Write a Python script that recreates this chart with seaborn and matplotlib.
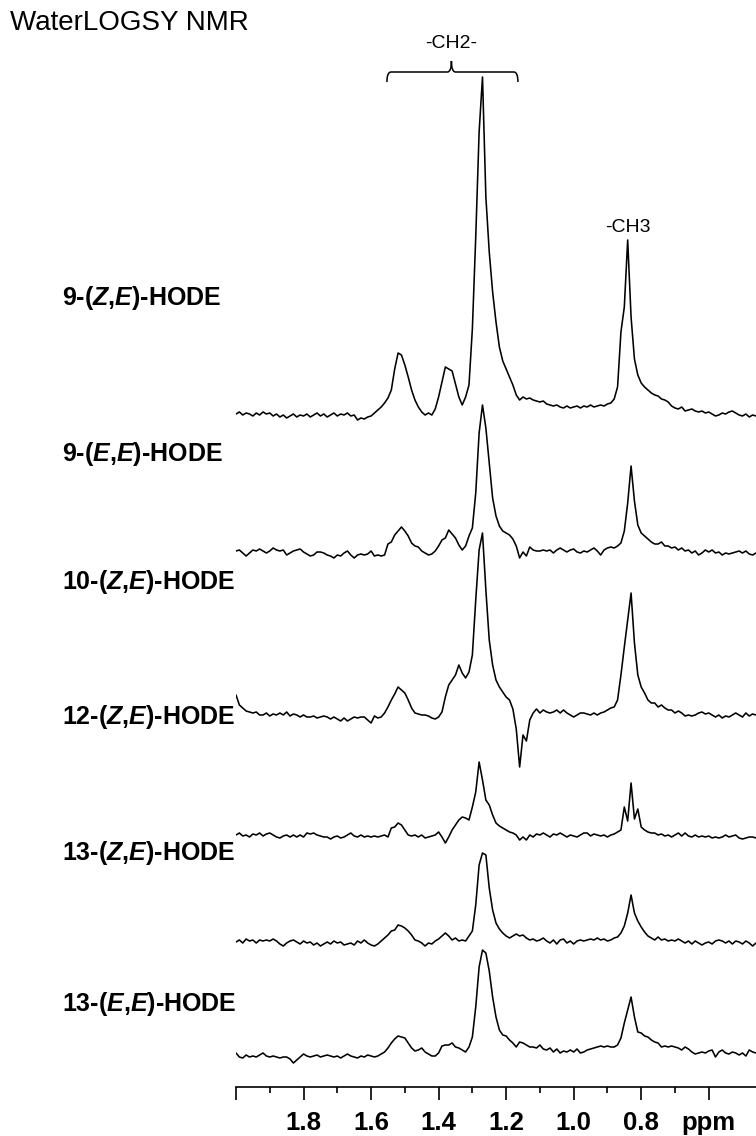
import numpy as np
import pandas as pd
import matplotlib
matplotlib.use("Agg")
import matplotlib.pyplot as plt
from matplotlib.path import Path
from matplotlib.patches import PathPatch
import seaborn as sns

# ---------------- data ----------------
# chemical shift grid (ppm), 0.01 ppm spacing from 2.00 down to 0.46
ppm = np.round(np.linspace(2.00, 0.46, 155), 2)

sample_names = [
    r"9-($\it{Z}$,$\it{E}$)-HODE",
    r"9-($\it{E}$,$\it{E}$)-HODE",
    r"10-($\it{Z}$,$\it{E}$)-HODE",
    r"12-($\it{Z}$,$\it{E}$)-HODE",
    r"13-($\it{Z}$,$\it{E}$)-HODE",
    r"13-($\it{E}$,$\it{E}$)-HODE",
]

# intensities (arbitrary units, baseline = 0), one row per 0.1 ppm
s_9ZE = [
    3, 5, 2, 4, 3, 1, 4, 2, 5, 3,
    4, 1, 3, 0, 2, -1, 1, 3, 0, 2,
    1, 3, 0, 2, 4, 1, 3, 0, 2, 4,
    1, 3, 2, 4, 1, 2, -3, -1, -2, 0,
    1, 4, 7, 10, 14, 19, 27, 48, 64, 62,
    52, 40, 27, 17, 10, 5, 2, 4, 2, 8,
    20, 35, 50, 48, 46, 33, 20, 12, 20, 32,
    88, 180, 285, 340, 220, 165, 125, 95, 70, 56,
    48, 40, 32, 22, 17, 20, 18, 19, 17, 16,
    15, 16, 13, 12, 11, 12, 10, 9, 11, 9,
    10, 11, 9, 11, 10, 12, 10, 11, 12, 11,
    13, 14, 18, 30, 85, 110, 177, 100, 58, 42,
    34, 30, 27, 24, 22, 21, 18, 17, 15, 11,
    9, 8, 10, 6, 7, 8, 6, 5, 6, 4,
    5, 3, 1, 2, 4, 3, 5, 6, 4, 2,
    1, 3, 0, 2, 1,
]
s_9EE = [
    2, 3, 0, -3, 0, 3, 2, 4, 2, 0,
    2, 5, 3, 2, 3, -2, 0, 2, 3, 4,
    1, -1, -3, -2, 1, 1, 0, -2, -3, -5,
    -2, -3, 0, 2, -2, -5, -2, -1, -2, -1,
    2, -3, -2, -3, -2, 9, 11, 18, 22, 26,
    22, 17, 10, 7, 6, 2, 0, -2, -1, 2,
    7, 13, 15, 23, 19, 15, 8, 3, 7, 17,
    25, 60, 120, 148, 125, 90, 55, 37, 27, 22,
    20, 18, 14, 7, -5, 1, -3, 6, 3, 2,
    2, 3, 2, 3, 0, 3, 5, 3, 1, 3,
    4, 1, 0, 2, 1, 3, 5, 2, -2, 3,
    5, 6, 5, 7, 10, 22, 50, 87, 52, 28,
    20, 17, 14, 11, 9, 9, 11, 7, 7, 5,
    6, 3, 5, 2, 3, 0, 2, -2, 0, 3,
    1, 3, 0, 1, -2, 0, -1, 0, 1, 2,
    0, 2, -1, -2, 0,
]
s_10ZE = [
    20, 10, 7, 4, 3, 2, 3, 0, 0, 2,
    -1, 1, 0, 2, 0, 3, -1, 1, 0, -2,
    0, -2, -2, -1, -3, -2, -1, -2, -4, -2,
    -4, -6, -3, -6, -4, -2, -3, -2, -2, -5,
    -8, -1, -3, -2, 2, 8, 15, 21, 28, 25,
    22, 15, 7, 2, 1, 0, 0, -1, -3, -4,
    -2, 3, 18, 30, 35, 40, 50, 42, 37, 43,
    60, 115, 165, 182, 125, 75, 50, 35, 28, 23,
    18, 15, 6, -14, -52, -20, -26, -5, 2, 6,
    2, 5, 3, 2, 3, 5, 2, 5, 2, 0,
    -2, 0, 2, 2, 1, 0, 2, 0, 2, 3,
    5, 7, 8, 15, 40, 68, 95, 122, 72, 40,
    28, 22, 15, 12, 12, 8, 10, 7, 5, 5,
    2, 4, 2, -1, 0, -1, 0, 2, 3, 1,
    2, 0, -2, 0, -3, -1, -2, 0, 2, 0,
    -2, 2, -1, 1, 0,
]
s_12ZE = [
    0, 2, -1, 0, -2, 1, 0, 2, -1, 1,
    2, 0, -2, -3, -1, 0, -2, 0, -2, 0,
    -2, 2, 1, 2, 0, -1, -2, -2, -4, -2,
    -1, -3, -2, 0, 2, -1, -2, 0, -2, -1,
    -2, -1, -2, -1, 0, -2, 7, 8, 12, 10,
    5, 0, -1, 0, -2, 0, -3, -2, -1, 0,
    3, -2, -8, -2, 5, 10, 15, 18, 17, 15,
    28, 43, 73, 55, 35, 30, 20, 12, 9, 7,
    5, 3, 2, 0, -5, -2, -5, 0, -2, 1,
    0, 2, 0, -2, 1, 0, 2, 0, -2, 0,
    -1, -2, 0, 2, 2, -1, 1, 0, -1, 0,
    -2, 0, 1, 3, 5, 28, 14, 52, 16, 26,
    8, 5, 3, 2, 2, 0, 1, -1, 0, -2,
    0, 2, -1, 2, -1, -2, 0, -2, -1, -2,
    -1, -3, -2, -3, -2, 0, -2, -1, 0, -3,
    -4, -3, -2, -2, -3,
]
s_13ZE = [
    1, 3, 0, 4, 2, 3, 0, 3, 2, 3,
    2, 4, 2, -1, -3, 0, 2, 3, 1, -1,
    2, 0, 1, -2, 0, -3, -1, 1, -1, 2,
    0, 1, -2, -1, 0, -2, 2, 0, 3, 0,
    -2, -3, -1, 2, 5, 8, 12, 13, 18, 17,
    15, 12, 8, 3, 2, 0, -3, 0, -1, 2,
    4, 7, 10, 7, 3, 5, 2, 3, 2, 7,
    12, 38, 78, 90, 88, 55, 33, 20, 14, 10,
    7, 5, 7, 9, 7, 8, 5, 3, 4, 2,
    3, 5, 2, 0, 3, -1, 3, 4, 0, 2,
    -1, 2, 3, 2, 3, 4, 3, 5, 3, 4,
    2, 3, 5, 6, 10, 17, 30, 48, 30, 22,
    16, 11, 7, 5, 3, 6, 3, 4, 2, 3,
    2, 4, 2, 0, 2, -1, 2, 0, -2, 0,
    1, -1, 2, 3, 2, 0, 2, -1, 2, 1,
    -1, 2, 0, -3, 0,
]
s_13EE = [
    3, -1, -2, 1, -1, 0, -1, 1, 3, 0,
    -1, 0, -1, -2, -1, -1, -3, -7, -4, -1,
    2, 0, -1, 0, 1, -1, 0, 1, 0, -1,
    0, -2, 0, 2, 0, -1, -2, 0, -1, 1,
    0, -1, 0, 2, 4, 8, 13, 17, 20, 19,
    18, 13, 8, 5, 6, 8, 4, 2, 0, 0,
    3, 10, 11, 11, 13, 9, 8, 6, 4, 9,
    19, 49, 89, 106, 103, 85, 59, 39, 26, 21,
    20, 16, 13, 9, 14, 13, 11, 9, 9, 8,
    11, 7, 6, 8, 4, 7, 3, 5, 4, 6,
    4, 7, 3, 4, 6, 7, 8, 9, 10, 9,
    10, 9, 9, 11, 18, 33, 46, 59, 39, 24,
    23, 20, 19, 16, 14, 13, 9, 10, 9, 10,
    9, 8, 6, 9, 7, 4, 2, 3, 4, 3,
    5, 6, -1, 4, 6, 3, 2, 4, 3, 1,
    3, 0, 6, 4, 3,
]
spectra = [s_9ZE, s_9EE, s_10ZE, s_12ZE, s_13ZE, s_13EE]

tick_values = [2.0, 1.8, 1.6, 1.4, 1.2, 1.0, 0.8, 0.6]
tick_labels = ["", "1.8", "1.6", "1.4", "1.2", "1.0", "0.8", "ppm"]
minor_values = [1.9, 1.7, 1.5, 1.3, 1.1, 0.9, 0.7]

# ---------------- layout (stack offsets, label positions) ----------------
W, H = 756, 1136
AX_BOTTOM_PX = 1087
offsets = [670, 534, 372, 252, 144, 31]          # vertical stacking
label_y_px = [298, 454, 582, 717, 853, 1004]

rows = []
for name, vals, off in zip(sample_names, spectra, offsets):
    for p, v in zip(ppm, vals):
        rows.append({"sample": name, "ppm": p, "signal": v + off})
df = pd.DataFrame(rows)

sns.set_style("ticks")
plt.rcParams["font.family"] = ["Liberation Sans", "DejaVu Sans"]
plt.rcParams["mathtext.fontset"] = "custom"
plt.rcParams["mathtext.it"] = "Liberation Sans:italic:bold"
plt.rcParams["mathtext.rm"] = "Liberation Sans:bold"
plt.rcParams["mathtext.bf"] = "Liberation Sans:bold"
plt.rcParams["text.color"] = "black"
plt.rcParams["xtick.color"] = "black"
plt.rcParams["xtick.labelcolor"] = "black"
plt.rcParams["axes.edgecolor"] = "black"

fig = plt.figure(figsize=(W / 100, H / 100), dpi=100)
ax = fig.add_axes([236 / W, (H - AX_BOTTOM_PX) / H, 1 - 236 / W, AX_BOTTOM_PX / H])

sns.lineplot(data=df, x="ppm", y="signal", units="sample", estimator=None,
             sort=False, color="black", lw=1.15, ax=ax, legend=False)

ax.set_xlim(2.0, 0.46)
ax.set_ylim(0, AX_BOTTOM_PX)
for s in ["top", "right", "left"]:
    ax.spines[s].set_visible(False)
ax.spines["bottom"].set_linewidth(1.2)
ax.spines["bottom"].set_color("black")
ax.set_yticks([])
ax.set_xticks(tick_values)
ax.set_xticklabels(tick_labels, fontsize=18.5, fontweight="bold", color="black")
ax.set_xticks(minor_values, minor=True)
ax.tick_params(axis="x", which="major", length=9.5, width=1.2, pad=8, color="black")
ax.tick_params(axis="x", which="minor", length=4, width=1.2, color="black")
ax.set_xlabel("")
ax.set_ylabel("")

# sample labels (left aligned)
for name, ly in zip(sample_names, label_y_px):
    fig.text(62 / W, 1 - ly / H, name, ha="left", va="center",
             fontsize=18, fontweight="bold", color="black")

# title
fig.text(10 / W, 1 - 23 / H, "WaterLOGSY NMR", ha="left", va="center",
         fontsize=20, color="black")

# -CH2- bracket
yb = AX_BOTTOM_PX - 72
ye = AX_BOTTOM_PX - 82
yt = AX_BOTTOM_PX - 61
xl, xc, xr = 1.553, 1.362, 1.165
d = 0.012
verts = [(xl, ye), (xl, yb), (xl - d, yb),
         (xc + d, yb), (xc, yb), (xc, yt),
         (xc, yb), (xc - d, yb),
         (xr + d, yb), (xr, yb), (xr, ye)]
codes = [Path.MOVETO, Path.CURVE3, Path.CURVE3,
         Path.LINETO, Path.CURVE3, Path.CURVE3,
         Path.CURVE3, Path.CURVE3,
         Path.LINETO, Path.CURVE3, Path.CURVE3]
ax.add_patch(PathPatch(Path(verts, codes), fill=False, lw=1.1, color="black",
                       clip_on=False))
ax.text(xc, AX_BOTTOM_PX - 44, "-CH2-", ha="center", va="center", fontsize=14,
        color="black", clip_on=False)
ax.text(0.84, AX_BOTTOM_PX - 227, "-CH3", ha="center", va="center", fontsize=14,
        color="black")

fig.savefig("out.png", dpi=100)
